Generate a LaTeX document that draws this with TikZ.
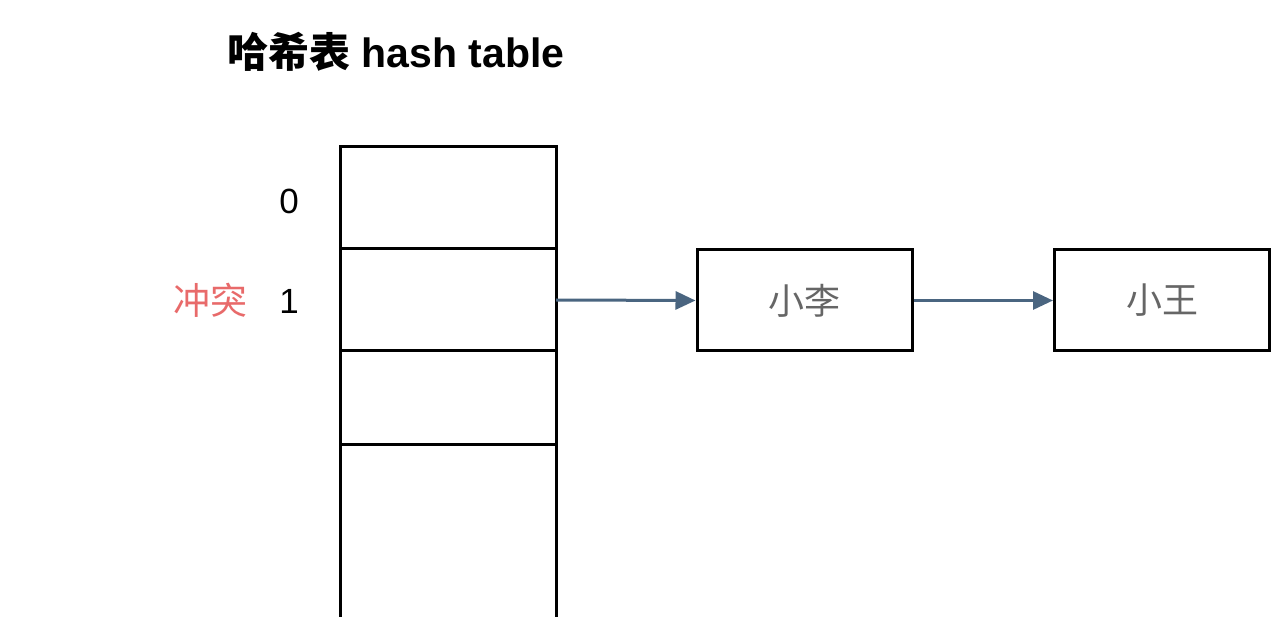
\documentclass[tikz,border=0pt]{standalone}
\usepackage{fontspec}
\setmainfont{Liberation Sans}
\newfontfamily\cjk{Noto Sans CJK SC}
\usetikzlibrary{arrows.meta}
\definecolor{arrowc}{HTML}{4A6580}
\definecolor{conflict}{HTML}{E86A6A}
\definecolor{txtgray}{HTML}{666666}
\begin{document}
\begin{tikzpicture}[x=1pt,y=-1pt,
  cell/.style={draw=black,line width=3pt},
  listbox/.style={draw=black,line width=3pt,minimum width=215pt,minimum height=101pt,inner sep=0pt,font=\cjk\fontsize{36}{42}\selectfont,text=txtgray},
  link/.style={draw=arrowc,line width=3pt,-{Triangle[length=20pt,width=18pt]}},
  idx/.style={font=\fontsize{35}{40}\selectfont}]
\useasboundingbox (0,0) rectangle (1277,617);
\clip (0,0) rectangle (1277,617);
\node[font=\bfseries\fontsize{41}{48}\selectfont,anchor=west,inner sep=0pt] (title) at (227,52) {{\cjk\bfseries 哈希表} hash table};
\draw[cell] (340,147) rectangle (556,700);
\draw[cell] (340,249) -- (556,249);
\draw[cell] (340,351) -- (556,351);
\draw[cell] (340,444) -- (556,444);
\coordinate (r1) at (556,300);
\node[idx] (i0) at (289,201) {0};
\node[idx] (i1) at (289,301) {1};
\node[font=\cjk\fontsize{37}{42}\selectfont,text=conflict] (cf) at (210,300) {冲突};
\node[listbox] (li) at (804.5,300.5) {小李};
\node[listbox] (wang) at (1162,300.5) {小王};
\draw[link] (r1) -- (li.west);
\draw[link] (li.east) -- (wang.west);
\end{tikzpicture}
\end{document}
